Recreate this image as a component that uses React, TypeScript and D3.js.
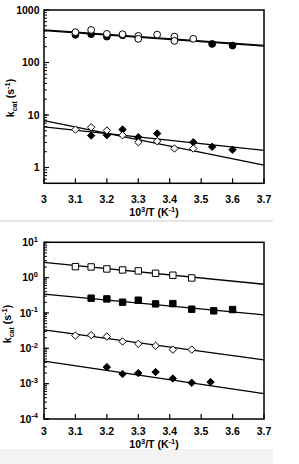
import React, { useEffect, useRef } from 'react';
import * as d3 from 'd3';

type Pt = [number, number];

// x ticks shared by both panels
const xTicks = [3, 3.1, 3.2, 3.3, 3.4, 3.5, 3.6, 3.7];

// top panel
const topTicks = [1, 10, 100, 1000];
const topOpenCircles: Pt[] = [
  [3.1, 378], [3.15, 417], [3.2, 351], [3.25, 346], [3.3, 321], [3.3, 282],
  [3.36, 340], [3.415, 311], [3.415, 258], [3.475, 282],
];
const topFilledCircles: Pt[] = [
  [3.1, 336], [3.15, 346], [3.2, 311], [3.25, 330], [3.3, 300], [3.535, 226], [3.6, 210],
];
const topOpenDiamonds: Pt[] = [
  [3.1, 5.28], [3.15, 5.85], [3.2, 5.06], [3.25, 4.12], [3.3, 3.03],
  [3.36, 3.17], [3.415, 2.3], [3.475, 2.3],
];
const topFilledDiamonds: Pt[] = [
  [3.15, 4.06], [3.2, 4.12], [3.25, 5.28], [3.3, 3.78], [3.36, 4.44],
  [3.475, 3.03], [3.535, 2.48], [3.6, 2.18],
];
const fitOpenCircles: Pt[] = [[3, 420], [3.7, 212]];
const fitFilledCircles: Pt[] = [[3, 405], [3.7, 205]];
const fitOpenDiamonds: Pt[] = [[3, 7.83], [3.7, 1.11]];
const fitFilledDiamonds: Pt[] = [[3, 5.95], [3.7, 2.11]];

// bottom panel
const bottomExps = [1, 0, -1, -2, -3, -4];
const openSquares: Pt[] = [
  [3.1, 2.05], [3.15, 2.01], [3.2, 1.76], [3.25, 1.65], [3.3, 1.55],
  [3.355, 1.33], [3.41, 1.17], [3.47, 0.98],
];
const filledSquares: Pt[] = [
  [3.15, 0.262], [3.2, 0.25], [3.25, 0.202], [3.3, 0.23], [3.355, 0.181],
  [3.41, 0.184], [3.47, 0.128], [3.54, 0.115], [3.6, 0.125],
];
const openDiamonds: Pt[] = [
  [3.1, 0.023], [3.15, 0.0236], [3.2, 0.0216], [3.25, 0.0156], [3.3, 0.0134],
  [3.355, 0.0118], [3.41, 0.0092], [3.47, 0.0092],
];
const filledDiamonds: Pt[] = [
  [3.2, 0.00294], [3.25, 0.00187], [3.3, 0.00199], [3.355, 0.00213],
  [3.41, 0.0014], [3.47, 0.00106], [3.53, 0.00111],
];
const fitOpenSquares: Pt[] = [[3, 2.72], [3.7, 0.65]];
const fitFilledSquares: Pt[] = [[3, 0.34], [3.7, 0.088]];
const fitOpenDiamondsB: Pt[] = [[3, 0.0333], [3.7, 0.0047]];
const fitFilledDiamondsB: Pt[] = [[3, 0.00435], [3.7, 0.00052]];

const FONT = '"Liberation Sans", Arial, sans-serif';

function App() {
  const ref = useRef<SVGSVGElement>(null);

  useEffect(() => {
    const svg = d3.select(ref.current);
    svg.selectAll('*').remove();

    // scan artifacts of the original figure
    svg.append('rect').attr('x', 0).attr('y', 220).attr('width', 273).attr('height', 2).attr('fill', '#e6e6e6');
    svg.append('rect').attr('x', 0).attr('y', 449).attr('width', 273).attr('height', 15).attr('fill', '#f3f3f3');

    const x = d3.scaleLinear().domain([3, 3.7]).range([44, 264]);

    function panel(y: d3.ScaleLogarithmic<number, number>, minor: number[], tickBase: number, titleBase: number) {
      const g = svg.append('g');
      const [y0, y1] = y.range();

      // ticks, inward
      g.selectAll('.xt').data(xTicks).join('line')
        .attr('x1', d => x(d)).attr('x2', d => x(d))
        .attr('y1', y0).attr('y2', y0 - 5)
        .attr('stroke', '#000').attr('stroke-width', 1.2);
      g.selectAll('.ym').data(minor).join('line')
        .attr('x1', 44).attr('x2', 47)
        .attr('y1', d => y(d)).attr('y2', d => y(d))
        .attr('stroke', '#000').attr('stroke-width', 1);

      g.append('rect')
        .attr('x', 44).attr('y', y1)
        .attr('width', 220).attr('height', y0 - y1)
        .attr('fill', 'none').attr('stroke', '#000').attr('stroke-width', 1.5);

      g.selectAll('.xl').data(xTicks).join('text')
        .attr('x', d => x(d)).attr('y', tickBase)
        .attr('text-anchor', 'middle')
        .attr('font-family', FONT).attr('font-weight', 'bold').attr('font-size', 10.5)
        .text(d => String(d));

      const t = g.append('text')
        .attr('x', 154).attr('y', titleBase)
        .attr('text-anchor', 'middle')
        .attr('font-family', FONT).attr('font-weight', 'bold').attr('font-size', 10.5);
      t.append('tspan').text('10');
      t.append('tspan').attr('dy', -4).attr('font-size', 7.5).text('3');
      t.append('tspan').attr('dy', 4).text('/T (K');
      t.append('tspan').attr('dy', -4).attr('font-size', 7.5).text('-1');
      t.append('tspan').attr('dy', 4).text(')');
      return g;
    }

    function yLabel(g: any, cx: number, cy: number) {
      const t = g.append('text')
        .attr('transform', `translate(${cx},${cy}) rotate(-90)`)
        .attr('text-anchor', 'middle')
        .attr('font-family', FONT).attr('font-weight', 'bold').attr('font-size', 10.5);
      t.append('tspan').text('k');
      t.append('tspan').attr('dy', 3).attr('font-size', 7).text('cat');
      t.append('tspan').attr('dy', -3).text(' (s');
      t.append('tspan').attr('dy', -4).attr('font-size', 7.5).text('-1');
      t.append('tspan').attr('dy', 4).text(')');
    }

    const line = (y: d3.ScaleLogarithmic<number, number>) =>
      d3.line<Pt>().x(d => x(d[0])).y(d => y(d[1]));

    function fit(g: any, y: any, data: Pt[], w = 1.3) {
      g.append('path').attr('d', line(y)(data))
        .attr('fill', 'none').attr('stroke', '#000').attr('stroke-width', w);
    }

    function marks(g: any, y: any, data: Pt[], shape: string, filled: boolean) {
      const sym = shape === 'circle'
        ? 'M3.4,0A3.4,3.4 0 1,1 -3.4,0A3.4,3.4 0 1,1 3.4,0Z'
        : shape === 'square'
          ? 'M-3.2,-3.2H3.2V3.2H-3.2Z'
          : 'M0,-3.7L3.7,0L0,3.7L-3.7,0Z';
      g.append('g').selectAll('path').data(data).join('path')
        .attr('transform', (d: Pt) => `translate(${x(d[0])},${y(d[1])})`)
        .attr('d', sym)
        .attr('fill', filled ? '#000' : '#fff')
        .attr('stroke', '#000').attr('stroke-width', 1);
    }

    // ---- top panel
    const yTop = d3.scaleLog().domain([0.5, 1000]).range([183.3, 10]);
    const topMinor: number[] = [];
    [0.1, 1, 10, 100].forEach(b => d3.range(1, 10).forEach(k => {
      const v = b * k;
      if (v >= 0.5 && v <= 1000) topMinor.push(v);
    }));
    const gt = panel(yTop, topMinor, 203, 216);
    gt.selectAll('.ymaj').data(topTicks).join('line')
      .attr('x1', 44).attr('x2', 49)
      .attr('y1', d => yTop(d)).attr('y2', d => yTop(d))
      .attr('stroke', '#000').attr('stroke-width', 1.2);
    gt.selectAll('.yl').data(topTicks).join('text')
      .attr('x', 39.5).attr('y', d => yTop(d)).attr('dy', '0.35em')
      .attr('text-anchor', 'end')
      .attr('font-family', FONT).attr('font-weight', 'bold').attr('font-size', 10.5)
      .text(d => String(d));
    yLabel(gt, 14, 98);

    fit(gt, yTop, fitOpenCircles);
    fit(gt, yTop, fitFilledCircles);
    fit(gt, yTop, fitOpenDiamonds);
    fit(gt, yTop, fitFilledDiamonds);
    marks(gt, yTop, topFilledCircles, 'circle', true);
    marks(gt, yTop, topOpenCircles, 'circle', false);
    marks(gt, yTop, topFilledDiamonds, 'diamond', true);
    marks(gt, yTop, topOpenDiamonds, 'diamond', false);

    // ---- bottom panel
    const yBot = d3.scaleLog().domain([1e-4, 10]).range([419, 242.3]);
    const botMinor: number[] = [];
    d3.range(-4, 1).forEach(e => d3.range(1, 10).forEach(k => botMinor.push(k * Math.pow(10, e))));
    const gb = panel(yBot, botMinor, 435, 448);
    gb.selectAll('.ymaj').data(bottomExps).join('line')
      .attr('x1', 44).attr('x2', 49)
      .attr('y1', d => yBot(Math.pow(10, d))).attr('y2', d => yBot(Math.pow(10, d)))
      .attr('stroke', '#000').attr('stroke-width', 1.2);
    const lbl = gb.selectAll('.yl').data(bottomExps).join('text')
      .attr('x', 38).attr('y', d => yBot(Math.pow(10, d)) + 3.8)
      .attr('text-anchor', 'end')
      .attr('font-family', FONT).attr('font-weight', 'bold').attr('font-size', 10.5);
    lbl.append('tspan').text('10');
    lbl.append('tspan').attr('dy', -4.5).attr('font-size', 7.5).text(d => String(d));
    yLabel(gb, 10.5, 324);

    fit(gb, yBot, fitOpenSquares);
    fit(gb, yBot, fitFilledSquares);
    fit(gb, yBot, fitOpenDiamondsB);
    fit(gb, yBot, fitFilledDiamondsB);
    marks(gb, yBot, openSquares, 'square', false);
    marks(gb, yBot, filledSquares, 'square', true);
    marks(gb, yBot, openDiamonds, 'diamond', false);
    marks(gb, yBot, filledDiamonds, 'diamond', true);
  }, []);

  return (
    <svg
      ref={ref}
      width={299}
      height={464}
      style={{ position: 'absolute', left: 0, top: 0, background: '#fff' }}
    />
  );
}

export default App;
